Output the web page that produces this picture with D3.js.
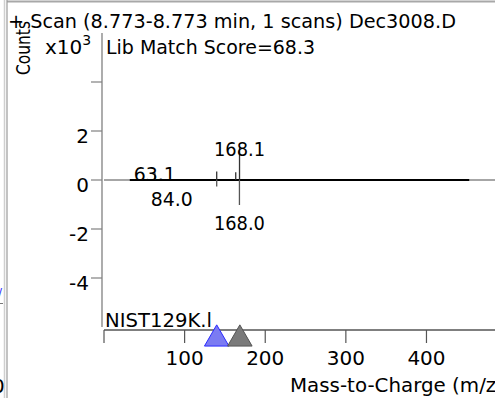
<!DOCTYPE html>
<html><head><meta charset="utf-8">
<script src="https://cdn.jsdelivr.net/npm/d3@7"></script>
<style>html,body{margin:0;padding:0;background:#fff;overflow:hidden}svg{display:block}text{font-family:"DejaVu Sans",Verdana,sans-serif;fill:#000}</style>
</head><body><svg id="c" width="495" height="398"></svg>
<script>
// ---- data ----
const titleText = "+ Scan (8.773-8.773 min, 1 scans) Dec3008.D";
const scoreText = "Lib Match Score=68.3";
const libText = "NIST129K.l";
const xLabel = "Mass-to-Charge (m/z)";
const yLabel = "Counts";
const xTicks = [0, 100, 200, 300, 400];
const xTickLabels = ["", "100", "200", "300", "400"];
const yTicks = [4, 2, 0, -2, -4];
const yTickLabels = ["", "2", "0", "-2", "-4"];
// sample spectrum (upward), x10^3 counts
const sampleMz = [63.1, 139.8, 163.4, 168.1];
const sampleVal = [0.3, 0.35, 0.32, 1.32];
// library spectrum (downward), x10^3 counts
const libMz = [84.0, 139.8, 168.0];
const libVal = [-0.03, -0.27, -1.02];
// low-level noise band of the sample scan (m/z start, end)
const noiseRange = [32, 453];
// labelled peaks
const upLabels = [{mz: 63.1, v: 0.3, t: "63.1"}, {mz: 168.1, v: 1.32, t: "168.1"}];
const downLabels = [{mz: 84.0, v: -0.03, t: "84.0"}, {mz: 168.0, v: -1.02, t: "168.0"}];
// marker triangles
const markerMz = [139.8, 168.5];
const markerFill = ["#7b7bf2", "#7a7a7a"];
const markerStroke = ["#2b2bff", "#555555"];

const svg = d3.select("#c");
const x = d3.scaleLinear().domain([0, 485]).range([104, 495]);
const y = d3.scaleLinear().domain([-6, 6]).range([327, 33]);

// frame borders
svg.append("line").attr("x1", 7).attr("x2", 495).attr("y1", 1.5).attr("y2", 1.5).attr("stroke", "#a8a8a8").attr("stroke-width", 2);
svg.append("line").attr("x1", 4.5).attr("x2", 4.5).attr("y1", 0).attr("y2", 398).attr("stroke", "#cfcfcf").attr("stroke-width", 1.5);
svg.append("line").attr("x1", 7).attr("x2", 7).attr("y1", 0).attr("y2", 398).attr("stroke", "#9a9a9a").attr("stroke-width", 1.2);
// fragments of neighbouring panel
svg.append("text").attr("x", -2).attr("y", 297).style("font-size", "12px").style("fill", "#3030ff").text("/");
svg.append("line").attr("x1", 0).attr("x2", 3).attr("y1", 303.5).attr("y2", 303.5).attr("stroke", "#777");
svg.append("text").attr("x", -8).attr("y", 393).style("font-size", "20px").text("0");

// y axis
svg.append("line").attr("x1", 102).attr("x2", 102).attr("y1", y(6)).attr("y2", y(-6)).attr("stroke", "#808080").attr("stroke-width", 1.3);
const yg = svg.append("g");
yg.selectAll("line").data(yTicks).join("line")
  .attr("x1", 91).attr("x2", 102).attr("y1", d => y(d)).attr("y2", d => y(d))
  .attr("stroke", "#808080").attr("stroke-width", 1.2);
yg.selectAll("text").data(yTicks).join("text")
  .attr("x", 89).attr("y", d => y(d) + 12).attr("text-anchor", "end")
  .style("font-size", "20px").text((d, i) => yTickLabels[i]);

// x axis
svg.append("line").attr("x1", x(0)).attr("x2", 495).attr("y1", 330).attr("y2", 330).attr("stroke", "#555").attr("stroke-width", 1.3);
const xg = svg.append("g");
xg.selectAll("line").data(xTicks).join("line")
  .attr("x1", d => x(d)).attr("x2", d => x(d)).attr("y1", 330).attr("y2", 343)
  .attr("stroke", "#555").attr("stroke-width", 1.2);
xg.selectAll("text").data(xTicks).join("text")
  .attr("x", d => x(d)).attr("y", 365).attr("text-anchor", "middle")
  .style("font-size", "20px").text((d, i) => xTickLabels[i]);

// zero line
svg.append("line").attr("x1", x(0)).attr("x2", 495).attr("y1", y(0)).attr("y2", y(0)).attr("stroke", "#888").attr("stroke-width", 1.6);
// noise band
svg.append("line").attr("x1", x(noiseRange[0])).attr("x2", x(noiseRange[1])).attr("y1", y(0)).attr("y2", y(0)).attr("stroke", "#000").attr("stroke-width", 2.2);

// peaks
svg.append("g").selectAll("line").data(sampleMz).join("line")
  .attr("x1", d => x(d)).attr("x2", d => x(d)).attr("y1", y(0)).attr("y2", (d, i) => y(sampleVal[i]))
  .attr("stroke", "#333").attr("stroke-width", 1.3);
svg.append("g").selectAll("line").data(libMz).join("line")
  .attr("x1", d => x(d)).attr("x2", d => x(d)).attr("y1", y(0)).attr("y2", (d, i) => y(libVal[i]))
  .attr("stroke", "#555").attr("stroke-width", 1.3);

// peak labels
svg.append("g").selectAll("text").data(upLabels).join("text")
  .attr("x", d => x(d.mz)).attr("y", d => y(d.v) + 8).attr("text-anchor", "middle")
  .style("font-size", "20px").attr("lengthAdjust", "spacingAndGlyphs").text(d => d.t)
  .attr("textLength", d => d.t.length === 5 ? 51 : 42);
svg.append("g").selectAll("text").data(downLabels).join("text")
  .attr("x", d => x(d.mz)).attr("y", d => y(d.v) + 25).attr("text-anchor", "middle")
  .style("font-size", "20px").attr("lengthAdjust", "spacingAndGlyphs").text(d => d.t)
  .attr("textLength", d => d.t.length === 5 ? 51 : 42);

// marker triangles
const tri = d3.symbol().type(d3.symbolTriangle).size(260);
svg.append("g").selectAll("path").data(markerMz).join("path")
  .attr("d", tri).attr("transform", d => `translate(${x(d)},${339})`)
  .attr("fill", (d, i) => markerFill[i]).attr("stroke", (d, i) => markerStroke[i]).attr("stroke-width", 1);

// texts
svg.append("text").attr("x", 8).attr("y", 28).style("font-size", "20px")
  .attr("textLength", 448).attr("lengthAdjust", "spacingAndGlyphs").text(titleText);
svg.append("text").attr("x", 106).attr("y", 54).style("font-size", "20px")
  .attr("textLength", 209).attr("lengthAdjust", "spacingAndGlyphs").text(scoreText);
const xt = svg.append("text").attr("x", 45).attr("y", 54).style("font-size", "20px");
xt.append("tspan").text("x10");
xt.append("tspan").attr("dy", -9).style("font-size", "14px").text("3");
svg.append("text").attr("transform", "translate(30,75) rotate(-90)")
  .style("font-size", "20px").attr("textLength", 54).attr("lengthAdjust", "spacingAndGlyphs").text(yLabel);
svg.append("text").attr("x", 105).attr("y", 327).style("font-size", "20px")
  .attr("textLength", 107).attr("lengthAdjust", "spacingAndGlyphs").text(libText);
svg.append("text").attr("x", 290).attr("y", 392).style("font-size", "20px")
  .attr("textLength", 214).attr("lengthAdjust", "spacingAndGlyphs").text(xLabel);
</script></body></html>
